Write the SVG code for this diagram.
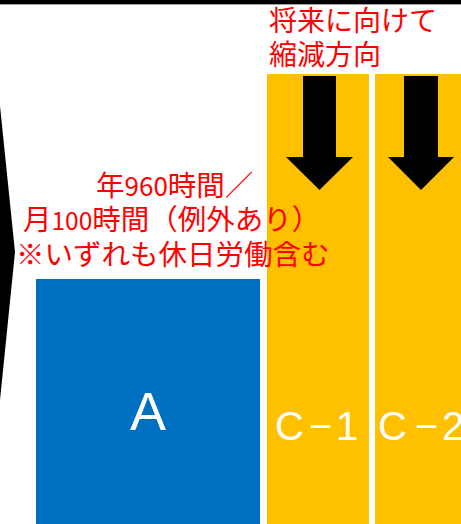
<svg xmlns="http://www.w3.org/2000/svg" width="461" height="524" viewBox="0 0 461 524">
<style>
.red{fill:#FF0000;font-family:"Noto Sans CJK JP","Noto Sans",sans-serif;font-size:28.5px}
.lbl{fill:#FFFFFF;font-family:"Liberation Sans",Arial,sans-serif}
.col{fill:#FFC000}
.arrow{fill:#000000}
</style>
<rect x="0" y="0" width="461" height="524" fill="#FFFFFF"/>
<rect x="0" y="0" width="461" height="4" fill="#000000"/>
<rect x="0" y="4" width="461" height="1" fill="#A0A0A0"/>
<polygon points="0,106 15,252 0,400" fill="#000000"/>
<g id="nodeA">
<rect x="36" y="279" width="224" height="245" fill="#0070C0"/>
<text class="lbl" x="148" y="430" font-size="54" text-anchor="middle">A</text>
</g>
<g id="nodeC1">
<rect class="col" x="267" y="74" width="102" height="450"/>
<text class="lbl" y="440" font-size="40"><tspan x="275">C</tspan><tspan x="309">−</tspan><tspan x="336">1</tspan></text>
</g>
<g id="nodeC2">
<rect class="col" x="375" y="74" width="102" height="450"/>
<text class="lbl" y="440" font-size="40"><tspan x="378">C</tspan><tspan x="415">−</tspan><tspan x="442">2</tspan></text>
</g>
<g id="connectors">
<polygon class="arrow" points="303,76 336,76 336,157 353,157 319.5,190 286,157 303,157"/>
<polygon class="arrow" points="404,76 438,76 438,157 454,157 421,190 388,157 404,157"/>
</g>
<g id="note-future">
<text class="red" style="font-size:28px" x="269" y="31">将来に向けて</text>
<text class="red" style="font-size:28px" x="269" y="65">縮減方向</text>
</g>
<g id="note-limit">
<text class="red" x="96" y="196">年<tspan style="font-size:26px">960</tspan>時間／</text>
<text class="red" x="23" y="230">月<tspan style="font-size:24.5px">100</tspan>時間（例外あり）</text>
<text class="red" x="16" y="265">※いずれも休日労働含む</text>
</g>
</svg>
